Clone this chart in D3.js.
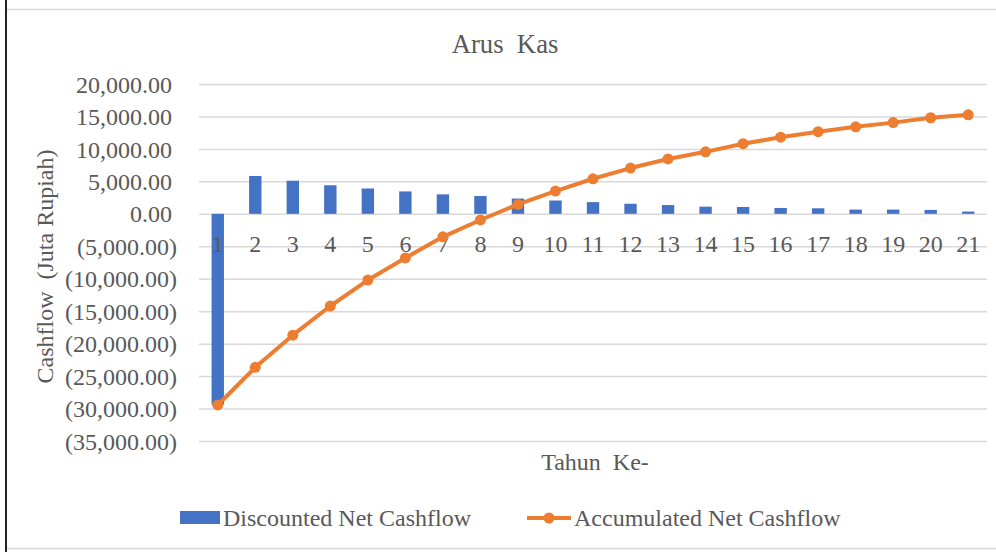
<!DOCTYPE html>
<html>
<head>
<meta charset="utf-8">
<script src="https://cdn.jsdelivr.net/npm/d3@7"></script>
<style>
  html, body { margin: 0; padding: 0; background: #fff; }
  svg { display: block; }
  text { font-family: "Liberation Serif", "Times New Roman", serif; fill: #595959; }
</style>
</head>
<body>
<svg id="chart" width="996" height="552"></svg>
<script>
// Year index (Tahun Ke-)
const years = ["1","2","3","4","5","6","7","8","9","10","11","12","13","14","15","16","17","18","19","20","21"];
// Discounted net cashflow per year (Juta Rupiah)
const discounted = [-29400, 5830, 5100, 4400, 3900, 3450, 3000, 2750, 2350, 2050, 1800,
                    1550, 1350, 1100, 1050, 900, 850, 650, 650, 600, 350];
// Accumulated net cashflow per year (Juta Rupiah)
const accumulated = [-29450, -23650, -18700, -14200, -10200, -6800, -3550, -950, 1450, 3500, 5400,
                     7050, 8450, 9550, 10800, 11800, 12650, 13400, 14050, 14800, 15250];
// Value axis ticks
const yTicks = [20000, 15000, 10000, 5000, 0, -5000, -10000, -15000, -20000, -25000, -30000, -35000];

const svg = d3.select("#chart");
const W = 996, H = 552;
const plot = { left: 199, right: 987, top: 84, bottom: 441 };

// Chart frame
svg.append("line").attr("x1", 6).attr("x2", W).attr("y1", 9.5).attr("y2", 9.5)
  .attr("stroke", "#d9d9d9").attr("stroke-width", 1.5);
svg.append("line").attr("x1", 6).attr("x2", W).attr("y1", 548.5).attr("y2", 548.5)
  .attr("stroke", "#d9d9d9").attr("stroke-width", 1.5);
svg.append("line").attr("x1", 6).attr("x2", 6).attr("y1", 0).attr("y2", H)
  .attr("stroke", "#222").attr("stroke-width", 2);

const x = d3.scaleBand().domain(years).range([plot.left, plot.right]).paddingInner(0).paddingOuter(0);
const y = d3.scaleLinear().domain([-35000, 20000]).range([plot.bottom, plot.top]);

const fmt = d3.format(",.2f");
const tickText = v => v < 0 ? "(" + fmt(-v) + ")" : fmt(v);

// Gridlines via axis
const grid = svg.append("g").attr("transform", `translate(${plot.left},0)`)
  .call(d3.axisLeft(y).tickValues(yTicks).tickSize(-(plot.right - plot.left)).tickFormat(""));
grid.select(".domain").remove();
grid.selectAll(".tick line").attr("stroke", "#d9d9d9").attr("stroke-width", 1.5);

// Value axis labels
const yAxis = svg.append("g").attr("transform", `translate(177,0)`)
  .call(d3.axisLeft(y).tickValues(yTicks).tickSize(0).tickPadding(0).tickFormat(tickText));
yAxis.select(".domain").remove();
yAxis.selectAll(".tick text")
  .attr("font-family", "Liberation Serif, serif").attr("font-size", 24).attr("fill", "#595959")
  .attr("x", d => d < 0 ? 0 : -5).attr("dy", "0.34em");

// Bars
const barW = x.bandwidth() * 0.33;
svg.append("g").selectAll("rect").data(discounted).join("rect")
  .attr("x", (d, i) => x(years[i]) + (x.bandwidth() - barW) / 2)
  .attr("width", barW)
  .attr("y", d => y(Math.max(0, d)))
  .attr("height", d => Math.abs(y(d) - y(0)))
  .attr("fill", "#4472C4");

// Category labels next to the zero line
const xAxis = svg.append("g").attr("transform", `translate(0,${y(0)})`)
  .call(d3.axisBottom(x).tickSize(0).tickPadding(0));
xAxis.select(".domain").remove();
xAxis.selectAll(".tick text")
  .attr("font-family", "Liberation Serif, serif").attr("font-size", 24).attr("fill", "#595959")
  .attr("dy", 0).attr("y", 38);

// Accumulated line
const line = d3.line().x((d, i) => x(years[i]) + x.bandwidth() / 2).y(d => y(d));
svg.append("path").datum(accumulated).attr("d", line)
  .attr("fill", "none").attr("stroke", "#ED7D31").attr("stroke-width", 4).attr("stroke-linejoin", "round");
svg.append("g").selectAll("circle").data(accumulated).join("circle")
  .attr("cx", (d, i) => x(years[i]) + x.bandwidth() / 2)
  .attr("cy", d => y(d)).attr("r", 5.5).attr("fill", "#ED7D31");

// Titles
svg.append("text").attr("x", 505).attr("y", 53).attr("text-anchor", "middle")
  .attr("font-size", 26.7).attr("xml:space", "preserve").text("Arus  Kas");
svg.append("text").attr("transform", `translate(53,${(plot.top + plot.bottom) / 2 + 4}) rotate(-90)`)
  .attr("text-anchor", "middle").attr("font-size", 24).attr("xml:space", "preserve")
  .text("Cashflow  (Juta Rupiah)");
svg.append("text").attr("x", 595).attr("y", 470).attr("text-anchor", "middle")
  .attr("font-size", 24).attr("xml:space", "preserve").text("Tahun  Ke-");

// Legend
const leg = svg.append("g");
leg.append("rect").attr("x", 180).attr("y", 511).attr("width", 40).attr("height", 13).attr("fill", "#4472C4");
leg.append("text").attr("x", 223).attr("y", 526).attr("font-size", 24).text("Discounted Net Cashflow");
leg.append("line").attr("x1", 527).attr("x2", 571).attr("y1", 518).attr("y2", 518)
  .attr("stroke", "#ED7D31").attr("stroke-width", 4);
leg.append("circle").attr("cx", 549).attr("cy", 518).attr("r", 5.5).attr("fill", "#ED7D31");
leg.append("text").attr("x", 574).attr("y", 526).attr("font-size", 24).text("Accumulated Net Cashflow");
</script>
</body>
</html>
